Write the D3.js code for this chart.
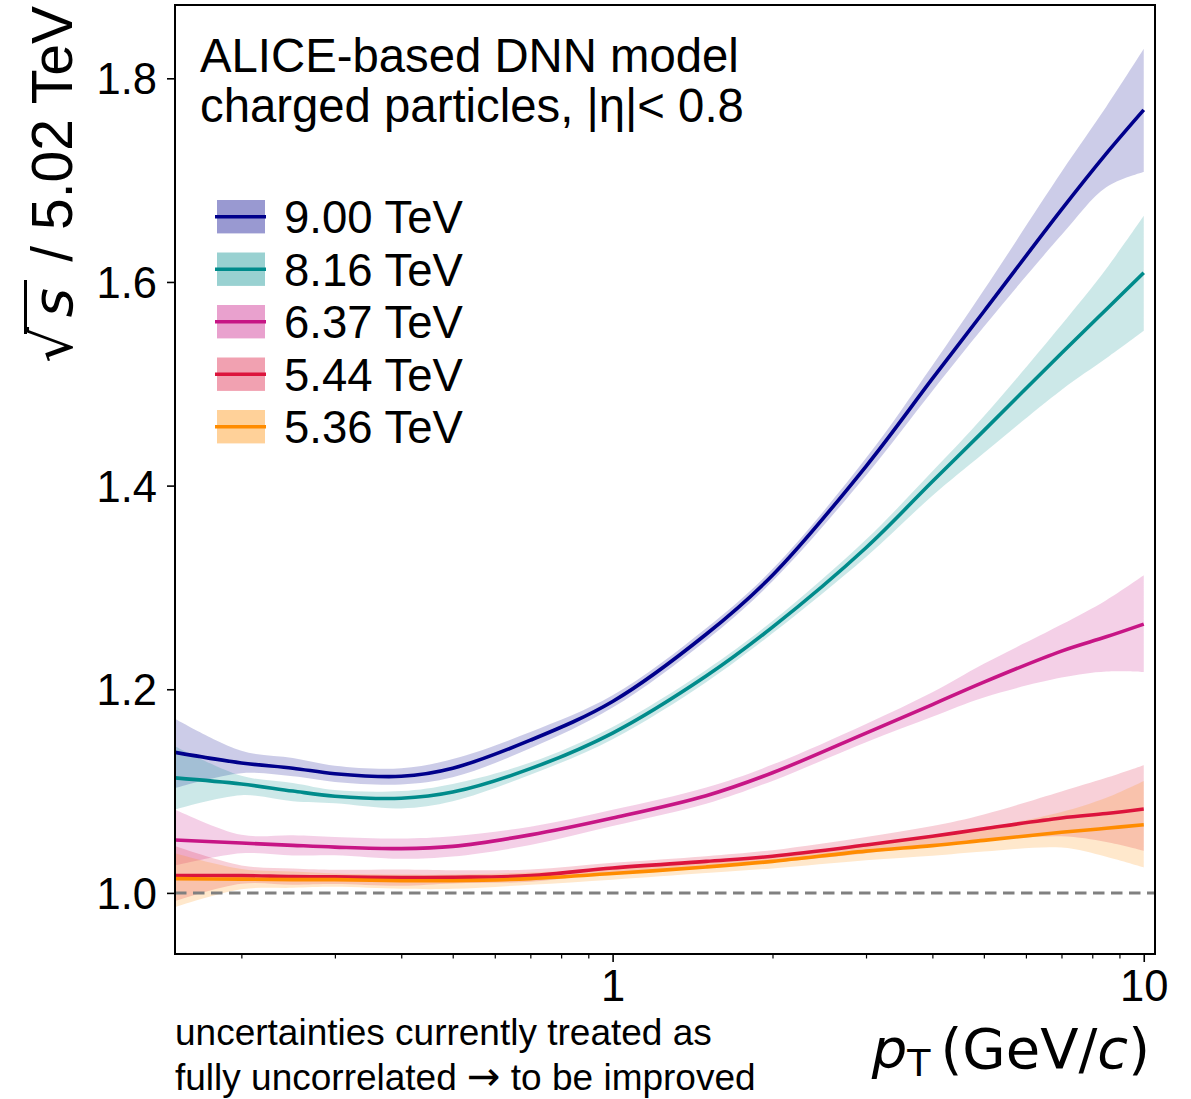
<!DOCTYPE html>
<html>
<head>
<meta charset="utf-8">
<script src="https://cdn.jsdelivr.net/npm/d3@7"></script>
<style>
  html, body { margin: 0; padding: 0; background: #ffffff; }
  svg { display: block; }
</style>
</head>
<body>
<svg id="chart" width="1191" height="1099"></svg>
<script>
// ---------------- data ----------------
const pT = [0.15, 0.2, 0.25, 0.3, 0.4, 0.5, 0.7, 1, 1.5, 2, 3, 4, 5, 7, 8.5, 10];

const seriesNames = ["9.00 TeV", "8.16 TeV", "6.37 TeV", "5.44 TeV", "5.36 TeV"];
const seriesColors = ["#00008b", "#008b8b", "#c71585", "#dc143c", "#ff8c00"];

const ratio900 = [1.138, 1.1276, 1.1225, 1.117, 1.1145, 1.1225, 1.150, 1.188, 1.254, 1.312, 1.419, 1.505, 1.571, 1.671, 1.726, 1.769];
const up900    = [0.033, 0.012, 0.010, 0.008, 0.008, 0.009, 0.008, 0.006, 0.006, 0.006, 0.008, 0.013, 0.021, 0.037, 0.046, 0.060];
const dn900    = [0.035, 0.010, 0.008, 0.008, 0.008, 0.009, 0.008, 0.006, 0.006, 0.006, 0.009, 0.012, 0.015, 0.025, 0.033, 0.061];

const ratio816 = [1.113, 1.107, 1.100, 1.095, 1.093, 1.099, 1.122, 1.157, 1.213, 1.261, 1.339, 1.404, 1.454, 1.530, 1.573, 1.609];
const up816    = [0.031, 0.008, 0.008, 0.006, 0.007, 0.008, 0.006, 0.006, 0.006, 0.006, 0.008, 0.010, 0.014, 0.028, 0.040, 0.056];
const dn816    = [0.031, 0.011, 0.010, 0.007, 0.010, 0.009, 0.006, 0.006, 0.006, 0.006, 0.009, 0.014, 0.022, 0.036, 0.048, 0.057];

const ratio637 = [1.052, 1.049, 1.0467, 1.045, 1.0435, 1.0457, 1.057, 1.0736, 1.0955, 1.118, 1.157, 1.185, 1.207, 1.2375, 1.2515, 1.264];
const up637    = [0.030, 0.008, 0.010, 0.010, 0.010, 0.010, 0.008, 0.008, 0.008, 0.008, 0.009, 0.012, 0.018, 0.026, 0.036, 0.048];
const dn637    = [0.025, 0.010, 0.010, 0.008, 0.010, 0.010, 0.010, 0.008, 0.008, 0.008, 0.009, 0.012, 0.015, 0.026, 0.034, 0.047];

const ratio544 = [1.017, 1.017, 1.016, 1.0157, 1.015, 1.0153, 1.017, 1.0245, 1.031, 1.036, 1.047, 1.0556, 1.063, 1.0736, 1.078, 1.0824];
const up544    = [0.029, 0.010, 0.008, 0.007, 0.008, 0.007, 0.006, 0.005, 0.005, 0.006, 0.008, 0.010, 0.014, 0.026, 0.035, 0.043];
const dn544    = [0.025, 0.008, 0.008, 0.007, 0.008, 0.006, 0.006, 0.005, 0.005, 0.006, 0.008, 0.009, 0.012, 0.018, 0.028, 0.041];

const ratio536 = [1.014, 1.0135, 1.013, 1.013, 1.012, 1.012, 1.014, 1.019, 1.0255, 1.031, 1.041, 1.0464, 1.0516, 1.0595, 1.0635, 1.067];
const up536    = [0.025, 0.010, 0.008, 0.006, 0.006, 0.006, 0.006, 0.005, 0.005, 0.005, 0.007, 0.009, 0.012, 0.020, 0.030, 0.043];
const dn536    = [0.028, 0.010, 0.008, 0.007, 0.008, 0.008, 0.006, 0.006, 0.006, 0.007, 0.009, 0.010, 0.011, 0.015, 0.028, 0.042];

const xTickValues = [1, 10];
const xTickLabels = ["1", "10"];
const yTickValues = [1.0, 1.2, 1.4, 1.6, 1.8];
const yTickLabels = ["1.0", "1.2", "1.4", "1.6", "1.8"];

const titleLines = ["ALICE-based DNN model", "charged particles, |\u03b7|< 0.8"];
const footLine1 = "uncertainties currently treated as";
const footLine2 = ["fully uncorrelated ", "\u2192", " to be improved"];

// ---------------- build ----------------
const seriesVals = [ratio900, ratio816, ratio637, ratio544, ratio536];
const seriesUp = [up900, up816, up637, up544, up536];
const seriesDn = [dn900, dn816, dn637, dn544, dn536];

const series = seriesNames.map((name, i) => ({
  name, color: seriesColors[i],
  pts: pT.map((p, j) => ({ x: p, y: seriesVals[i][j], lo: seriesVals[i][j] - seriesDn[i][j], hi: seriesVals[i][j] + seriesUp[i][j] }))
}));

const L = 175, R = 1155, T = 5, B = 954;
const x = d3.scaleLog().domain([0.15, 10.5]).range([L, R]);
const y = d3.scaleLinear().domain([0.94, 1.872]).range([B, T]);

const svg = d3.select("#chart");
const sans = "'Liberation Sans', Arial, Helvetica, sans-serif";
const dejavu = "'DejaVu Sans', sans-serif";

svg.append("defs").append("clipPath").attr("id", "clip")
  .append("rect").attr("x", L).attr("y", T).attr("width", R - L).attr("height", B - T);

const plot = svg.append("g").attr("clip-path", "url(#clip)");

const curve = d3.curveCatmullRom.alpha(0.5);
const area = d3.area().x(d => x(d.x)).y0(d => y(d.lo)).y1(d => y(d.hi)).curve(curve);
const line = d3.line().x(d => x(d.x)).y(d => y(d.y)).curve(curve);

series.forEach(s => {
  plot.append("path").attr("d", area(s.pts)).attr("fill", s.color).attr("fill-opacity", 0.2).attr("stroke", "none");
});
series.forEach(s => {
  plot.append("path").attr("d", line(s.pts)).attr("fill", "none").attr("stroke", s.color).attr("stroke-width", 3.6);
});

// reference line at 1
plot.append("line").attr("x1", L).attr("x2", R).attr("y1", y(1)).attr("y2", y(1))
  .attr("stroke", "#808080").attr("stroke-width", 3).attr("stroke-dasharray", "11.5,6.5");

// frame
svg.append("rect").attr("x", L).attr("y", T).attr("width", R - L).attr("height", B - T)
  .attr("fill", "none").attr("stroke", "#000").attr("stroke-width", 2);

// x axis
const xAxis = d3.axisBottom(x).tickValues(xTickValues).tickFormat((d, i) => xTickLabels[i]).tickSizeOuter(0).tickSize(8).tickPadding(8);
const gx = svg.append("g").attr("transform", `translate(0,${B})`).call(xAxis);
gx.select(".domain").remove();
gx.selectAll(".tick line").attr("stroke", "#000").attr("stroke-width", 1.6);
gx.selectAll(".tick text").attr("font-family", sans).attr("font-size", 43.5).attr("fill", "#000");

const minorVals = [];
[0.1, 1].forEach(dec => { for (let k = 2; k <= 9; k++) { const v = dec * k; if (v >= 0.15 && v <= 10.5) minorVals.push(v); } });
const xMinor = d3.axisBottom(x).tickValues(minorVals).tickFormat("").tickSizeOuter(0).tickSize(4.5);
const gxm = svg.append("g").attr("transform", `translate(0,${B})`).call(xMinor);
gxm.select(".domain").remove();
gxm.selectAll(".tick line").attr("stroke", "#000").attr("stroke-width", 1.2);

// y axis
const yAxis = d3.axisLeft(y).tickValues(yTickValues).tickFormat((d, i) => yTickLabels[i]).tickSizeOuter(0).tickSize(8).tickPadding(10);
const gy = svg.append("g").attr("transform", `translate(${L},0)`).call(yAxis);
gy.select(".domain").remove();
gy.selectAll(".tick line").attr("stroke", "#000").attr("stroke-width", 1.6);
gy.selectAll(".tick text").attr("font-family", sans).attr("font-size", 43.5).attr("fill", "#000").attr("dy", "0.36em");

// y label (rotated, aligned to top)
const yl = svg.append("g").attr("transform", "translate(72,6) rotate(-90)");
yl.append("text").attr("x", 0).attr("y", 0).attr("text-anchor", "end").attr("font-family", sans).attr("font-size", 57).attr("fill", "#000").text("/ 5.02 TeV");
yl.append("text").attr("x", -282).attr("y", 0).attr("text-anchor", "end").attr("font-family", dejavu).attr("font-style", "italic").attr("font-size", 56).attr("fill", "#000").text("s");
yl.append("text").attr("x", -321).attr("y", 0).attr("text-anchor", "end").attr("font-family", dejavu).attr("font-size", 56).attr("fill", "#000").text("\u221a");
yl.append("line").attr("x1", -328).attr("x2", -274).attr("y1", -46.5).attr("y2", -46.5).attr("stroke", "#000").attr("stroke-width", 3);

// x label
const xl = svg.append("text").attr("x", 1150).attr("y", 1068).attr("text-anchor", "end").attr("font-family", dejavu).attr("font-size", 56).attr("fill", "#000");
xl.append("tspan").attr("font-style", "italic").text("p");
xl.append("tspan").attr("font-size", 38).attr("dy", 8).text("T");
xl.append("tspan").attr("dy", -8).attr("dx", 10).text("(GeV/");
xl.append("tspan").attr("font-style", "italic").text("c");
xl.append("tspan").text(")");

// title text
titleLines.forEach((t, i) => {
  svg.append("text").attr("x", 200).attr("y", 72 + i * 50).attr("font-family", sans).attr("font-size", 47.3).attr("fill", "#000").text(t);
});

// footnote
svg.append("text").attr("x", 175).attr("y", 1045).attr("font-family", sans).attr("font-size", 37).attr("fill", "#000").text(footLine1);
const f2 = svg.append("text").attr("x", 175).attr("y", 1090).attr("font-family", sans).attr("font-size", 37).attr("fill", "#000");
f2.append("tspan").text(footLine2[0]);
f2.append("tspan").attr("font-family", dejavu).attr("font-size", 40).text(footLine2[1]);
f2.append("tspan").text(footLine2[2]);

// legend
const leg = svg.append("g");
series.forEach((s, i) => {
  const cy = 216.7 + i * 52.5;
  leg.append("rect").attr("x", 217).attr("y", cy - 16.7).attr("width", 48).attr("height", 33.4).attr("fill", s.color).attr("fill-opacity", 0.4);
  leg.append("line").attr("x1", 215).attr("x2", 266).attr("y1", cy).attr("y2", cy).attr("stroke", s.color).attr("stroke-width", 3.6);
  leg.append("text").attr("x", 284).attr("y", cy + 16.5).attr("font-family", sans).attr("font-size", 45.5).attr("fill", "#000").text(s.name);
});
</script>
</body>
</html>
